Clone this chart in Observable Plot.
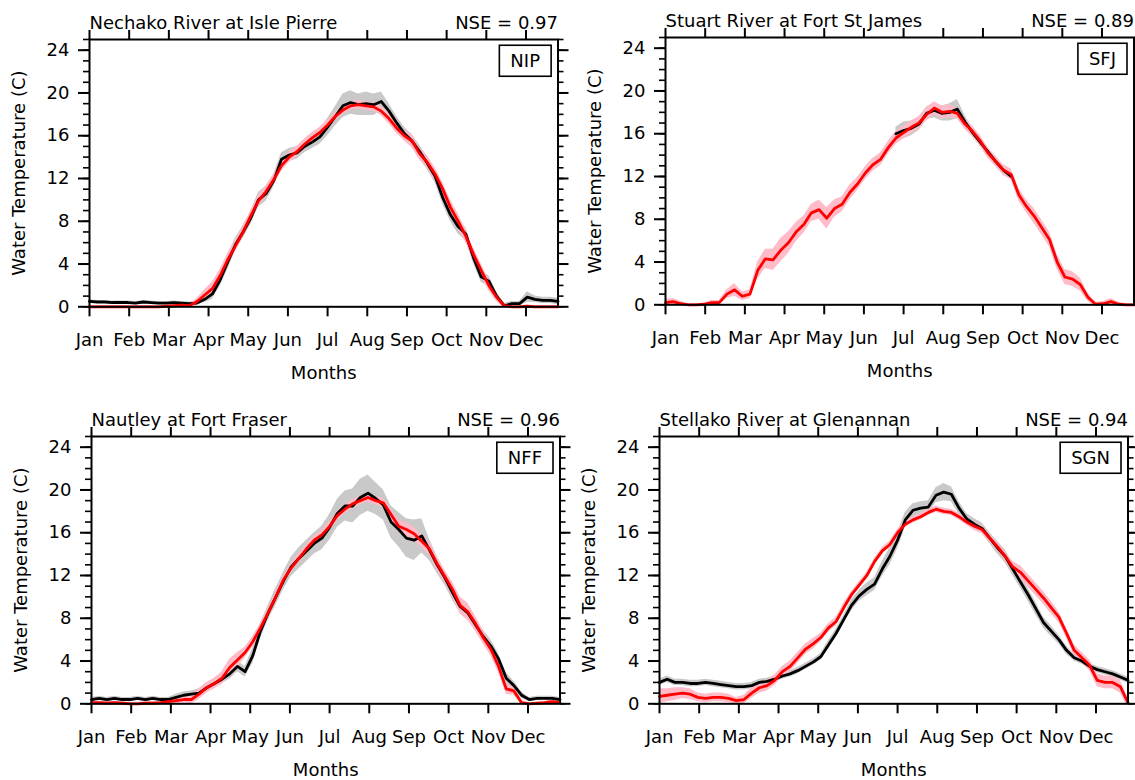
<!DOCTYPE html>
<html>
<head>
<meta charset="utf-8">
<script src="https://cdn.jsdelivr.net/npm/d3@7"></script>
<script src="https://cdn.jsdelivr.net/npm/@observablehq/plot@0.6"></script>
<style>
  html, body { margin: 0; padding: 0; background: #fff; }
  #root { position: relative; width: 1135px; height: 780px; overflow: hidden; background: #fff; }
  .panel { position: absolute; }
</style>
</head>
<body>
<div id="root"></div>
<script>
// ---------- shared axes ----------
const days = [0,6,12,18,24,30,36,42,48,54,
  60,66,72,78,84,90,96,102,108,114,
  120,126,132,138,144,150,156,162,168,174,
  180,186,192,198,204,210,216,222,228,234,
  240,246,252,258,264,270,276,282,288,294,
  300,306,312,318,324,330,336,342,348,354,
  360,366];
const monthLabels = ["Jan","Feb","Mar","Apr","May","Jun","Jul","Aug","Sep","Oct","Nov","Dec"];
const monthTicks = [0,31,62,93,124,155,186,217,248,279,310,341];
const yMajorTicks = [0,4,8,12,16,20,24];
const yMinorTicks = [0,1,2,3,4,5,6,7,8,9,10,11,12,13,14,15,16,17,18,19,20,21,22,23,24,25];

// ---------- station metadata ----------
const codes = ["NIP","SFJ","NFF","SGN"];
const titles = ["Nechako River at Isle Pierre","Stuart River at Fort St James","Nautley at Fort Fraser","Stellako River at Glenannan"];
const nseValues = ["0.97","0.89","0.96","0.94"];

// ---------- NIP ----------
const nipObs = [0.5,0.45,0.45,0.4,0.4,0.4,0.35,0.45,0.4,0.35,
  0.35,0.4,0.35,0.3,0.35,0.7,1.2,2.5,4.2,5.8,
  7.0,8.3,10.0,10.6,11.8,13.8,14.2,14.4,15.0,15.4,
  15.9,16.8,17.8,18.8,19.1,18.9,19.0,18.9,19.2,18.3,
  17.2,16.2,15.5,14.5,13.4,12.2,10.2,8.6,7.5,6.8,
  4.6,2.8,2.4,1.0,0.1,0.3,0.3,0.9,0.7,0.6,
  0.6,0.5];
const nipObsSpread = [0.15,0.15,0.15,0.15,0.15,0.15,0.15,0.15,0.15,0.15,
  0.15,0.15,0.15,0.15,0.15,0.3,0.5,0.6,0.7,0.6,
  0.6,0.6,0.7,0.7,0.6,0.6,0.6,0.6,0.6,0.6,
  0.7,0.8,0.9,1.1,1.1,1.0,1.1,1.0,0.9,0.7,
  0.6,0.6,0.6,0.6,0.6,0.6,0.6,0.6,0.7,0.6,
  0.6,0.5,0.5,0.4,0.2,0.2,0.2,0.5,0.3,0.3,
  0.3,0.3];
const nipMod = [0,0,0,0,0,0,0,0,0,0,
  0.05,0.1,0.15,0.1,0.5,1.1,1.7,2.9,4.4,5.7,
  7.0,8.5,9.9,10.8,11.9,13.2,14.0,14.5,15.2,15.8,
  16.3,17.0,17.8,18.4,18.8,18.9,18.8,18.7,18.3,17.6,
  16.7,16.0,15.5,14.3,13.5,12.4,11.0,9.3,8.0,6.6,
  4.9,3.4,2.0,0.9,0.1,0,0,0.05,0,0,
  0,0];
const nipModSpread = [0.1,0.1,0.1,0.1,0.1,0.1,0.1,0.1,0.1,0.1,
  0.1,0.1,0.1,0.1,0.3,0.5,0.6,0.6,0.6,0.5,
  0.5,0.5,0.5,0.5,0.5,0.5,0.5,0.5,0.5,0.5,
  0.5,0.5,0.4,0.4,0.4,0.4,0.4,0.4,0.4,0.5,
  0.5,0.5,0.6,0.6,0.6,0.6,0.6,0.7,0.7,0.6,
  0.6,0.6,0.5,0.4,0.2,0.1,0.1,0.1,0.1,0.1,
  0.1,0.1];

// ---------- SFJ ----------
const sfjObs = [null,null,null,null,null,null,null,null,null,null,
  null,null,null,null,null,null,null,null,null,null,
  null,null,null,null,null,null,null,null,null,null,
  16.0,16.3,16.5,16.9,17.9,18.2,17.9,18.0,18.3,17.1,
  16.1,15.2,14.3,13.4,12.6,12.0,null,null,null,null,
  null,null,null,null,null,null,null,null,null,null,
  null,null];
const sfjObsSpread = [0,0,0,0,0,0,0,0,0,0,
  0,0,0,0,0,0,0,0,0,0,
  0,0,0,0,0,0,0,0,0,0,
  0.6,0.8,0.7,0.6,0.6,0.7,0.7,0.8,0.9,0.6,
  0.4,0.4,0.4,0.4,0.4,0.3,0,0,0,0,
  0,0,0,0,0,0,0,0,0,0,
  0,0];
const sfjMod = [0.2,0.3,0.1,0,0,0.05,0.2,0.2,1.0,1.4,
  0.8,1.0,3.2,4.3,4.2,5.1,5.8,6.8,7.5,8.6,
  8.9,8.1,9.0,9.4,10.5,11.3,12.3,13.1,13.6,14.7,
  15.6,16.1,16.6,17.0,17.8,18.4,18.0,18.1,17.9,16.9,
  16.2,15.3,14.2,13.4,12.6,12.2,10.3,9.2,8.3,7.2,
  6.1,4.0,2.6,2.4,1.9,0.7,0.05,0.1,0.3,0.05,
  0,0];
const sfjModSpread = [0.3,0.3,0.2,0.1,0.1,0.1,0.2,0.2,0.4,0.6,
  0.4,0.4,0.8,0.9,1.0,1.1,1.0,0.9,0.8,0.8,
  0.9,1.0,0.8,0.7,0.7,0.6,0.6,0.6,0.6,0.6,
  0.6,0.6,0.6,0.6,0.6,0.6,0.6,0.6,0.5,0.5,
  0.5,0.5,0.5,0.5,0.5,0.5,0.6,0.6,0.7,0.7,
  0.7,0.7,0.7,0.7,0.6,0.4,0.2,0.2,0.3,0.2,
  0.1,0.1];

// ---------- NFF ----------
const nffObs = [0.4,0.5,0.4,0.5,0.4,0.4,0.5,0.4,0.5,0.4,
  0.4,0.6,0.8,0.9,1.0,1.5,1.9,2.3,2.8,3.5,
  3.0,4.5,6.8,8.5,10.0,11.5,12.8,13.6,14.3,15.0,
  15.5,16.5,17.8,18.5,18.5,19.3,19.7,19.2,18.6,17.0,
  16.3,15.5,15.3,15.7,14.4,13.0,11.8,10.4,9.1,8.5,
  7.4,6.3,5.4,4.2,2.4,1.7,0.8,0.4,0.5,0.5,
  0.5,0.4];
const nffObsSpread = [0.2,0.2,0.2,0.2,0.2,0.2,0.2,0.2,0.2,0.2,
  0.2,0.3,0.3,0.3,0.4,0.4,0.4,0.4,0.5,0.5,
  0.5,0.7,0.7,0.7,0.8,0.8,0.9,1.0,1.0,1.0,
  1.1,1.2,1.3,1.4,1.6,1.7,1.7,1.5,1.4,1.5,
  1.6,1.8,1.9,1.6,1.0,0.8,0.7,0.7,0.6,0.6,
  0.6,0.6,0.6,0.5,0.5,0.4,0.3,0.2,0.2,0.2,
  0.2,0.2];
const nffMod = [0.1,0.1,0.05,0.1,0.05,0,0,0.05,0.05,0.1,
  0.2,0.3,0.4,0.4,0.9,1.5,1.9,2.4,3.4,4.1,
  4.8,5.8,7.1,8.5,10.0,11.6,12.7,13.6,14.5,15.3,
  15.8,16.6,17.6,18.2,18.7,19.0,19.3,19.0,18.8,17.7,
  16.6,16.3,15.9,15.2,14.5,13.1,11.9,10.7,9.2,8.6,
  7.5,6.2,5.1,3.5,1.4,1.2,0.1,0,0.05,0.1,
  0.2,0.1];
const nffModSpread = [0.15,0.15,0.15,0.15,0.15,0.15,0.15,0.15,0.15,0.15,
  0.2,0.3,0.3,0.4,0.5,0.5,0.5,0.6,0.8,0.7,
  0.5,0.5,0.4,0.4,0.4,0.4,0.4,0.4,0.4,0.4,
  0.4,0.4,0.4,0.4,0.4,0.4,0.4,0.4,0.4,0.5,
  0.6,0.6,0.6,0.6,0.6,0.6,0.6,0.7,0.8,0.8,
  0.7,0.6,0.6,0.6,0.5,0.4,0.2,0.1,0.1,0.1,
  0.2,0.2];

// ---------- SGN ----------
const sgnObs = [2.0,2.3,2.0,2.0,1.9,1.9,2.0,1.9,1.8,1.7,
  1.6,1.6,1.7,2.0,2.1,2.3,2.6,2.8,3.1,3.5,
  3.9,4.4,5.5,6.6,7.9,9.2,10.1,10.7,11.2,12.6,
  13.8,15.3,17.2,18.1,18.3,18.4,19.5,19.8,19.6,18.3,
  17.3,16.8,16.4,15.5,14.6,13.8,12.6,11.4,10.2,8.9,
  7.6,6.8,6.0,5.0,4.3,4.0,3.5,3.2,3.0,2.8,
  2.5,2.2];
const sgnObsSpread = [0.3,0.3,0.3,0.3,0.3,0.3,0.3,0.3,0.3,0.3,
  0.3,0.3,0.3,0.3,0.3,0.3,0.3,0.3,0.3,0.3,
  0.3,0.3,0.4,0.4,0.4,0.5,0.5,0.6,0.6,0.7,
  0.8,0.8,0.7,0.6,0.6,0.6,0.7,0.8,0.7,0.6,
  0.5,0.5,0.5,0.5,0.6,0.6,0.6,0.6,0.6,0.6,
  0.5,0.5,0.4,0.4,0.3,0.3,0.3,0.3,0.3,0.3,
  0.3,0.3];
const sgnMod = [0.7,0.8,0.9,1.0,0.9,0.6,0.5,0.6,0.6,0.5,
  0.3,0.4,1.0,1.5,1.7,2.2,3.0,3.5,4.3,5.1,
  5.6,6.2,7.1,7.7,9.0,10.2,11.1,12.0,13.3,14.3,
  14.9,16.0,16.8,17.2,17.5,17.9,18.2,18.0,17.9,17.5,
  17.0,16.6,16.3,15.5,14.7,13.8,12.8,12.3,11.5,10.7,
  9.9,9.0,8.1,6.6,5.0,4.3,3.6,2.2,2.0,2.0,
  1.6,0.1];
const sgnModSpread = [0.7,0.6,0.6,0.5,0.5,0.4,0.4,0.4,0.4,0.4,
  0.3,0.4,0.5,0.5,0.5,0.5,0.5,0.5,0.5,0.5,
  0.5,0.4,0.4,0.4,0.4,0.3,0.3,0.3,0.3,0.3,
  0.3,0.3,0.3,0.3,0.3,0.3,0.3,0.3,0.3,0.3,
  0.3,0.4,0.4,0.4,0.4,0.4,0.5,0.6,0.6,0.6,
  0.6,0.6,0.5,0.5,0.5,0.5,0.5,0.6,0.6,0.6,
  0.6,0.5];

const obsSeries = [nipObs, sfjObs, nffObs, sgnObs];
const obsSpreads = [nipObsSpread, sfjObsSpread, nffObsSpread, sgnObsSpread];
const modSeries = [nipMod, sfjMod, nffMod, sgnMod];
const modSpreads = [nipModSpread, sfjModSpread, nffModSpread, sgnModSpread];

// ---------- layout (page position of each panel's frame: left, top) ----------
const frameOrigins = [[89.3, 39], [665, 36.7], [91, 436], [659.3, 436]];
const ML = 90, MT = 45, MR = 11.5, MB = 84.7, W = 570, H = 397;

const FONT = "'DejaVu Sans', 'Liberation Sans', sans-serif";
const GREY = "#c9c9c9", PINK = "#ffbcc8";
const monthByTick = new Map(monthTicks.map((t, i) => [t, monthLabels[i]]));
const num = v => (v == null ? NaN : v);

function makePanel(k) {
  const rows = days.map((d, i) => {
    const o = num(obsSeries[k][i]), m = num(modSeries[k][i]);
    return {
      day: d,
      obs: o, obsLo: o - obsSpreads[k][i], obsHi: o + obsSpreads[k][i],
      mod: m, modLo: m - modSpreads[k][i], modHi: m + modSpreads[k][i]
    };
  });
  const lineW = 2.8;
  return Plot.plot({
    width: W, height: H,
    marginLeft: ML, marginTop: MT, marginRight: MR, marginBottom: MB,
    x: {domain: [0, 366], axis: null},
    y: {domain: [0, 25], axis: null},
    style: {fontFamily: FONT, fontSize: "18px", color: "black", background: "transparent", overflow: "visible"},
    marks: [
      Plot.areaY(rows, {x: "day", y1: "obsLo", y2: "obsHi", fill: GREY, clip: true}),
      Plot.areaY(rows, {x: "day", y1: "modLo", y2: "modHi", fill: PINK, clip: true}),
      Plot.lineY(rows, {x: "day", y: "obs", stroke: "black", strokeWidth: lineW, strokeLinejoin: "round"}),
      Plot.lineY(rows, {x: "day", y: "mod", stroke: "#ff0000", strokeWidth: lineW, strokeLinejoin: "round"}),
      // y axes, left + right, major + minor
      Plot.axisY({anchor: "left", ticks: yMajorTicks, tickSize: 11, tickPadding: 9, strokeWidth: 2, label: null, tickFormat: d => String(d)}),
      Plot.axisY({anchor: "left", ticks: yMinorTicks, tickSize: 6, strokeWidth: 1.6, label: null, tickFormat: () => ""}),
      Plot.axisY({anchor: "right", ticks: yMajorTicks, tickSize: 10, strokeWidth: 2, label: null, tickFormat: () => ""}),
      Plot.axisY({anchor: "right", ticks: yMinorTicks, tickSize: 5, strokeWidth: 1.6, label: null, tickFormat: () => ""}),
      // x axes, bottom + top
      Plot.axisX({anchor: "bottom", ticks: monthTicks, tickSize: 10, tickPadding: 16, strokeWidth: 2, label: null, tickFormat: d => monthByTick.get(d)}),
      Plot.axisX({anchor: "top", ticks: monthTicks, tickSize: 10, strokeWidth: 2, label: null, tickFormat: () => ""}),
      Plot.frame({stroke: "black", strokeWidth: 2}),
      // titles and labels
      Plot.text([titles[k]], {frameAnchor: "top-left", textAnchor: "start", lineAnchor: "bottom", dy: -11, text: d => d}),
      Plot.text(["NSE = " + nseValues[k]], {frameAnchor: "top-right", textAnchor: "end", lineAnchor: "bottom", dy: -11, text: d => d}),
      Plot.text([codes[k]], {frameAnchor: "top-right", textAnchor: "end", lineAnchor: "middle", dx: -18, dy: 22, text: d => d}),
      Plot.text(["Water Temperature (C)"], {frameAnchor: "left", textAnchor: "middle", rotate: -90, dx: -70, lineAnchor: "middle", text: d => d}),
      Plot.text(["Months"], {frameAnchor: "bottom", textAnchor: "middle", lineAnchor: "middle", dy: 66, text: d => d})
    ]
  });
}

const root = document.getElementById("root");
codes.forEach((code, k) => {
  const wrap = document.createElement("div");
  wrap.className = "panel";
  wrap.style.left = (frameOrigins[k][0] - ML) + "px";
  wrap.style.top = (frameOrigins[k][1] - MT) + "px";
  wrap.style.width = W + "px";
  wrap.style.height = H + "px";
  const svg = makePanel(k);
  svg.style.maxWidth = "none";
  wrap.appendChild(svg);
  root.appendChild(wrap);
  // draw the box around the station code
  const t = Array.from(svg.querySelectorAll("text")).find(el => el.textContent === code);
  if (t) {
    const bb = t.getBBox();
    const r = document.createElementNS("http://www.w3.org/2000/svg", "rect");
    r.setAttribute("x", bb.x - 11);
    r.setAttribute("y", bb.y - 5);
    r.setAttribute("width", bb.width + 22);
    r.setAttribute("height", bb.height + 10);
    r.setAttribute("fill", "white");
    r.setAttribute("stroke", "black");
    r.setAttribute("stroke-width", 1.6);
    const tr = t.getAttribute("transform");
    if (tr) r.setAttribute("transform", tr);
    t.parentNode.insertBefore(r, t);
  }
});
</script>
</body>
</html>
